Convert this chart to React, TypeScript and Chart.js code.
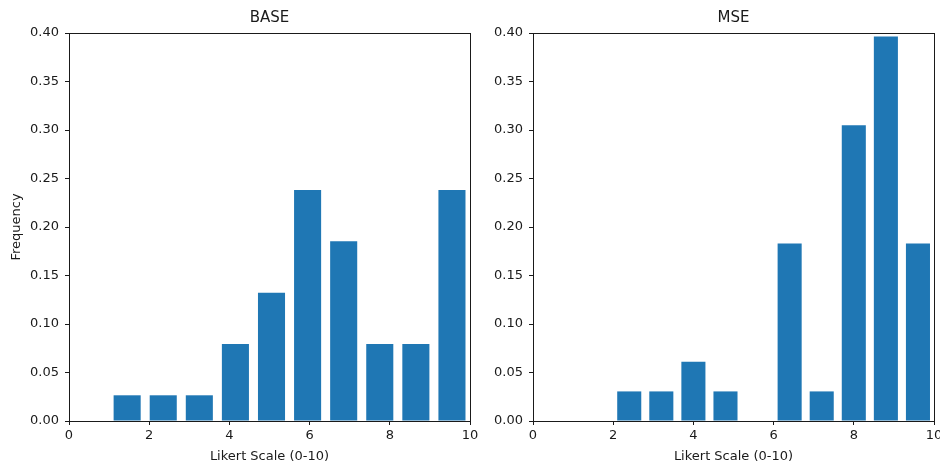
import React, { useEffect, useRef } from "react";
import { Chart, registerables } from "chart.js";

Chart.register(...registerables);

// Histogram bin centres and densities for each model
const baseCenters = [1.45, 2.35, 3.25, 4.15, 5.05, 5.95, 6.85, 7.75, 8.65, 9.55];
const baseDensity = [0.0265, 0.0265, 0.0265, 0.0794, 0.1323, 0.2381, 0.1852, 0.0794, 0.0794, 0.2381];

const mseCenters = [2.4, 3.2, 4.0, 4.8, 5.6, 6.4, 7.2, 8.0, 8.8, 9.6];
const mseDensity = [0.0305, 0.0305, 0.061, 0.0305, 0, 0.1829, 0.0305, 0.3049, 0.3963, 0.1829];

const xTicks = [0, 2, 4, 6, 8, 10];
const yTicks = [0, 0.05, 0.1, 0.15, 0.2, 0.25, 0.3, 0.35, 0.4];

const FONT = "'DejaVu Sans', sans-serif";
const INK = "#1a1a1a";
const BAR = "#1f77b4";

// Draws the four-sided axes frame around the plotting area
const framePlugin = {
  id: "frame",
  afterDraw(chart: any) {
    const { ctx, chartArea } = chart;
    ctx.save();
    ctx.strokeStyle = INK;
    ctx.lineWidth = 1;
    ctx.strokeRect(
      Math.round(chartArea.left) + 0.5,
      Math.round(chartArea.top) + 0.5,
      Math.round(chartArea.right - chartArea.left),
      Math.round(chartArea.bottom - chartArea.top)
    );
    ctx.restore();
  },
};

function makeConfig(
  title: string,
  centers: number[],
  values: number[],
  yAxisWidth: number,
  padRight: number,
  showYLabel: boolean
): any {
  return {
    type: "bar",
    data: {
      datasets: [
        {
          data: centers.map((x, i) => ({ x, y: values[i] })),
          backgroundColor: BAR,
          borderWidth: 0,
          categoryPercentage: 1,
          barPercentage: 0.75,
        },
      ],
    },
    plugins: [framePlugin],
    options: {
      responsive: false,
      animation: false,
      events: [],
      layout: { padding: { left: 0, right: padRight, top: 0, bottom: 0 } },
      plugins: {
        legend: { display: false },
        tooltip: { enabled: false },
        title: {
          display: true,
          text: title,
          color: INK,
          fullSize: false,
          font: { family: FONT, size: 15, weight: "normal", lineHeight: 1.2 },
          padding: { top: 9, bottom: 6 },
        },
      },
      scales: {
        x: {
          type: "linear",
          min: 0,
          max: 10,
          offset: false,
          afterBuildTicks: (scale: any) => {
            scale.ticks = xTicks.map((v) => ({ value: v }));
          },
          afterFit: (scale: any) => {
            scale.height = 45;
            scale.paddingLeft = 0;
            scale.paddingRight = 0;
          },
          ticks: {
            color: INK,
            font: { family: FONT, size: 13, lineHeight: 1.2 },
            padding: 3,
            maxRotation: 0,
            callback: (v: number) => String(v),
          },
          grid: {
            offset: false,
            drawOnChartArea: false,
            drawTicks: true,
            tickLength: 4,
            color: INK,
          },
          border: { display: true, color: INK, width: 1 },
          title: {
            display: true,
            text: "Likert Scale (0-10)",
            color: INK,
            font: { family: FONT, size: 13, lineHeight: 1.2 },
            padding: { top: 0, bottom: 2 },
          },
        },
        y: {
          type: "linear",
          min: 0,
          max: 0.4,
          afterBuildTicks: (scale: any) => {
            scale.ticks = yTicks.map((v) => ({ value: v }));
          },
          afterFit: (scale: any) => {
            scale.width = yAxisWidth;
            scale.paddingTop = 0;
            scale.paddingBottom = 0;
          },
          ticks: {
            color: INK,
            font: { family: FONT, size: 13, lineHeight: 1.2 },
            padding: 6,
            callback: (v: number) => v.toFixed(2),
          },
          grid: {
            drawOnChartArea: false,
            drawTicks: true,
            tickLength: 4,
            color: INK,
          },
          border: { display: true, color: INK, width: 1 },
          title: {
            display: showYLabel,
            text: "Frequency",
            color: INK,
            font: { family: FONT, size: 13, lineHeight: 1.2 },
            padding: { top: 9, bottom: 0 },
          },
        },
      },
    },
  };
}

function Panel(props: {
  left: number;
  width: number;
  title: string;
  centers: number[];
  values: number[];
  yAxisWidth: number;
  padRight: number;
  showYLabel: boolean;
}) {
  const ref = useRef<HTMLCanvasElement | null>(null);
  useEffect(() => {
    if (!ref.current) return;
    const chart = new Chart(
      ref.current,
      makeConfig(props.title, props.centers, props.values, props.yAxisWidth, props.padRight, props.showYLabel)
    );
    return () => chart.destroy();
  }, []);
  return (
    <canvas
      ref={ref}
      width={props.width}
      height={466}
      style={{ position: "absolute", left: props.left, top: 0, width: props.width, height: 466 }}
    />
  );
}

export default function App() {
  return (
    <div style={{ position: "absolute", left: 0, top: 0, width: 940, height: 466, background: "#fff", overflow: "hidden" }}>
      <Panel left={0} width={490} title="BASE" centers={baseCenters} values={baseDensity} yAxisWidth={69} padRight={20} showYLabel={true} />
      <Panel left={490} width={450} title="MSE" centers={mseCenters} values={mseDensity} yAxisWidth={43} padRight={6} showYLabel={false} />
    </div>
  );
}
